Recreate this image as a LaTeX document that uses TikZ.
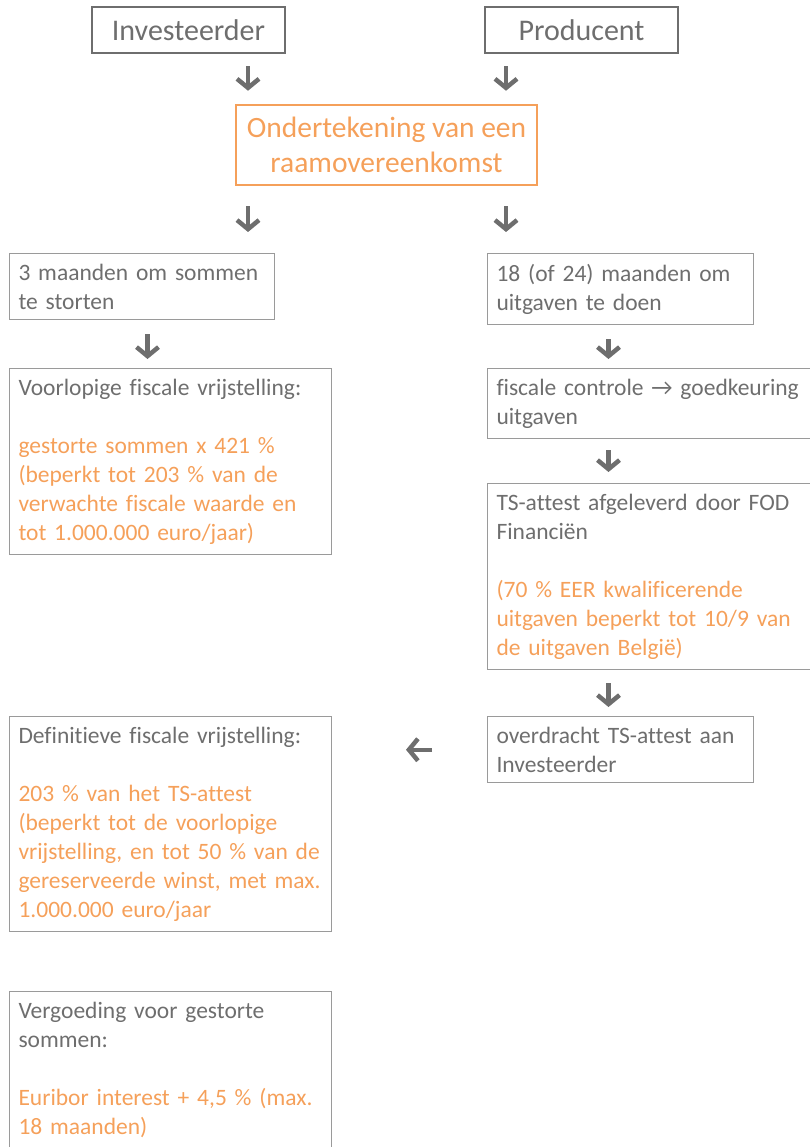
\documentclass[tikz,border=0pt]{standalone}
\usepackage{fontspec}
\setmainfont{Carlito}[Ligatures=NoCommon]
\usetikzlibrary{arrows.meta}
\definecolor{textgray}{HTML}{6E6E6E}
\definecolor{linegray}{HTML}{9A9A9A}
\definecolor{accent}{HTML}{F5A05A}

\begin{document}
\begin{tikzpicture}[x=1pt,y=-1pt,
    party/.style={draw=textgray, line width=2.5pt, text=textgray, font=\fontsize{30}{35}\selectfont, minimum width=193pt, minimum height=46pt, inner sep=0pt},
    infobox/.style={draw=linegray, line width=1pt, text=textgray, font=\fontsize{23.5}{29}\selectfont, align=left, inner xsep=9pt, inner ysep=10.5pt, anchor=north west},
    arr/.style={-{Straight Barb[length=9pt,width=22pt]}, line width=4.5pt, draw=textgray}]
    \useasboundingbox (0,0) rectangle (810,1147);
    \node[party] (inv) at (188.5,30) {Investeerder};
    \node[party] (prod) at (581.5,30) {Producent};
    \node[draw=accent, line width=2.5pt, text=accent, font=\fontsize{29.5}{35}\selectfont, align=center, minimum width=301pt, minimum height=80pt, inner sep=0pt] (sign) at (386.5,145) {Ondertekening van een\\raamovereenkomst};
    \node[infobox, text width=247pt] (sum) at (9,253) {3 maanden om sommen\\te storten};
    \node[infobox, text width=304pt] (prov) at (9,368) {Voorlopige fiscale vrijstelling:\\[29pt]\color{accent}gestorte sommen x 421 \%\\(beperkt tot 203 \% van de\\verwachte fiscale waarde en\\tot 1.000.000 euro/jaar)};
    \node[infobox, text width=248pt] (spend) at (487,253) {18 (of 24) maanden om\\uitgaven te doen};
    \node[infobox, text width=304.5pt] (ctrl) at (487,368) {fiscale controle → goedkeuring\\uitgaven};
    \node[infobox, text width=304.5pt] (ts) at (487,483) {TS-attest afgeleverd door FOD\\Financiën\\[29pt]\color{accent}(70 \% EER kwalificerende\\uitgaven beperkt tot 10/9 van\\de uitgaven België)};
    \node[infobox, text width=248pt] (transfer) at (487,716) {overdracht TS-attest aan\\Investeerder};
    \node[infobox, text width=304pt] (final) at (9,716) {Definitieve fiscale vrijstelling:\\[29pt]\color{accent}203 \% van het TS-attest\\(beperkt tot de voorlopige\\vrijstelling, en tot 50 \% van de\\gereserveerde winst, met max.\\1.000.000 euro/jaar};
    \node[infobox, text width=304pt] (fee) at (9,991) {Vergoeding voor gestorte\\sommen:\\[29pt]\color{accent}Euribor interest + 4,5 \% (max.\\18 maanden)};
    \draw[arr, shorten <=12pt, shorten >=13pt] ([xshift=59.5pt]inv.south) -- ([xshift=59.5pt]inv.south |- sign.north);
    \draw[arr, shorten <=12pt, shorten >=13pt] ([xshift=-75.5pt]prod.south) -- ([xshift=-75.5pt]prod.south |- sign.north);
    \draw[arr, shorten <=20pt, shorten >=21pt] ([xshift=-138.5pt]sign.south) -- ([xshift=-138.5pt]sign.south |- sum.north);
    \draw[arr, shorten <=20pt, shorten >=21pt] ([xshift=119.5pt]sign.south) -- ([xshift=119.5pt]sign.south |- spend.north);
    \draw[arr, shorten <=14pt, shorten >=9pt] ([xshift=5.5pt]sum.south) -- ([xshift=5.5pt]sum.south |- prov.north);
    \draw[arr, shorten <=14pt, shorten >=9pt] ([xshift=-12pt]spend.south) -- ([xshift=-12pt]spend.south |- ctrl.north);
    \draw[arr, shorten <=11pt, shorten >=11pt] ([xshift=-12pt]spend.south |- ctrl.south) -- ([xshift=-12pt]spend.south |- ts.north);
    \draw[arr, shorten <=13pt, shorten >=9pt] ([xshift=-12pt]spend.south |- ts.south) -- ([xshift=-12pt]spend.south |- transfer.north);
    \draw[arr, shorten <=55pt, shorten >=74pt] (transfer.west) -- (transfer.west -| final.east);
\end{tikzpicture}
\end{document}
